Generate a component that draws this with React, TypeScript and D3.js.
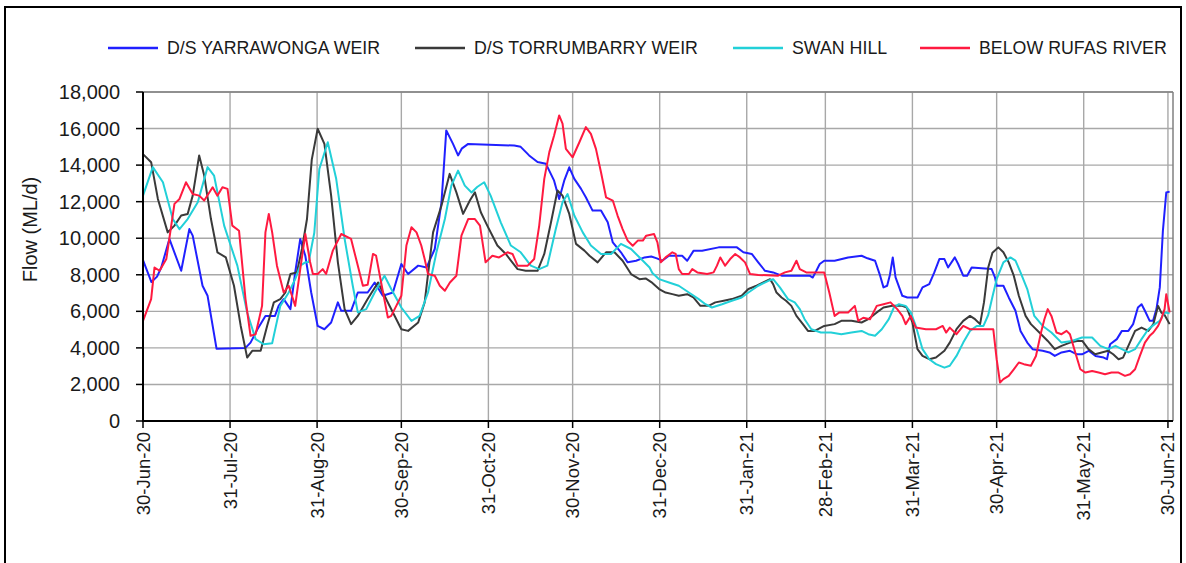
import React from 'react';
import * as d3 from 'd3';

const START = Date.UTC(2020, 5, 30);
const DAY = 86400000;

const tickDates = ['2020-06-30', '2020-07-31', '2020-08-31', '2020-09-30', '2020-10-31', '2020-11-30', '2020-12-31', '2021-01-31', '2021-02-28', '2021-03-31', '2021-04-30', '2021-05-31', '2021-06-30'];
const tickLabels = ['30-Jun-20', '31-Jul-20', '31-Aug-20', '30-Sep-20', '31-Oct-20', '30-Nov-20', '31-Dec-20', '31-Jan-21', '28-Feb-21', '31-Mar-21', '30-Apr-21', '31-May-21', '30-Jun-21'];
const yTicks = [0, 2000, 4000, 6000, 8000, 10000, 12000, 14000, 16000, 18000];

const seriesNames = ['D/S YARRAWONGA WEIR', 'D/S TORRUMBARRY WEIR', 'SWAN HILL', 'BELOW RUFAS RIVER'];
const seriesColors = ['#2020ff', '#3a3a3a', '#22d0d8', '#ff1a40'];

// day offsets from 30-Jun-20 and flows (ML/d)
const yarrawongaDays = [0, 3, 5, 6.5, 9.4, 13.6, 16.5, 17.7, 21.2, 23, 26.2, 36.5, 38.3, 40.7, 43.6, 47, 48.3, 50.1, 52.5, 54.2, 56, 57.8, 59.9, 62.2, 64.6, 67, 69.4, 70.6, 74.1, 76.5, 80, 82.5, 85.4, 89, 92, 94.4, 98, 101, 103.9, 106.3, 108, 110.4, 112.2, 113.5, 115.8, 132.2, 134.5, 137.5, 140.5, 143.5, 146.4, 148.2, 150, 151.8, 153.6, 156, 157.7, 160.1, 163.1, 165.5, 167.3, 170.2, 172.6, 175.6, 178.6, 181, 183, 184.9, 187.3, 192, 193.8, 196.1, 199.1, 205, 211.5, 213.8, 216.8, 219.1, 221.5, 224.4, 227.4, 237.4, 238.5, 239.8, 241, 242.6, 246.3, 251.1, 255.9, 258, 260.7, 262.5, 263.7, 265, 266, 267, 268, 270.4, 272.2, 275.8, 277.6, 280, 281.8, 283.6, 285.4, 286.7, 289.1, 290.3, 292.1, 293.5, 295.1, 302.2, 303.4, 304, 306.4, 308.3, 310.7, 312.5, 314.9, 316.8, 320.4, 322.8, 324.7, 327.1, 330.1, 332.6, 334.4, 336.8, 339.2, 342.1, 343.3, 344.4, 346.8, 348.6, 350.9, 352.6, 354.3, 355.6, 356.8, 358.5, 359.7, 360.9, 362.1, 363.2, 364.4, 365.6];
const yarrawongaFlow = [8800, 7600, 7900, 8400, 9960, 8220, 10500, 10140, 7400, 6850, 3950, 4000, 4290, 5000, 5750, 5750, 6300, 6670, 6120, 8130, 9960, 9040, 7030, 5200, 5020, 5390, 6490, 6030, 6030, 7030, 7030, 7580, 6850, 7030, 8590, 8040, 8500, 8400, 9410, 11970, 15900, 15160, 14530, 14900, 15160, 15070, 15000, 14530, 14170, 14070, 13150, 12150, 13150, 13880, 13250, 12700, 12240, 11510, 11510, 10870, 9770, 9230, 8680, 8770, 8950, 9000, 8900, 8770, 9040, 9040, 8770, 9320, 9320, 9500, 9500, 9230, 9140, 8680, 8220, 8130, 7950, 7950, 7850, 8220, 8590, 8770, 8770, 8950, 9040, 8900, 8770, 7950, 7310, 7400, 8000, 8950, 7860, 6850, 6760, 6760, 7310, 7490, 8130, 8860, 8860, 8400, 8950, 8590, 7950, 7950, 8400, 8310, 7860, 7400, 7400, 6760, 6030, 4930, 4290, 3930, 3840, 3750, 3560, 3750, 3840, 3650, 3650, 3840, 3560, 3470, 3380, 4200, 4480, 4930, 4930, 5300, 6210, 6390, 6030, 5480, 5480, 6120, 7310, 10400, 12500, 12550];

const torrumbarryDays = [0, 2.9, 5.3, 8.8, 11.2, 13.6, 15.9, 17.7, 20, 21.8, 24.2, 26.5, 29.5, 32.4, 34.8, 37.1, 38.9, 41.9, 44.2, 46.6, 48.9, 50.7, 52.5, 54.8, 56.6, 58.4, 60.1, 62.2, 64.6, 67, 69.4, 71.8, 74.1, 76.5, 80, 83.7, 86, 89, 92, 94.4, 98, 100.3, 103.3, 106.3, 109.2, 111.6, 114, 116.4, 118.2, 120.3, 122.6, 126.2, 129.2, 133.4, 136.3, 140.5, 142.9, 145.3, 147.6, 149.4, 151.8, 154.2, 157.2, 159, 161.9, 164.9, 167.9, 170.8, 173.8, 176.8, 179, 181, 183.8, 186.1, 188.5, 190.8, 193.8, 196, 198.5, 201.4, 203.8, 206.8, 209.7, 213.2, 215.6, 218.5, 220.9, 223.3, 224.4, 225.6, 227.4, 229, 230.9, 232.7, 235, 236.8, 239.2, 242.6, 246.3, 248.7, 252.3, 255.9, 258.3, 261.3, 263.7, 266.8, 270.4, 272, 274, 275.8, 277.6, 280, 282.4, 285.4, 287.3, 289.7, 292.1, 294.5, 296.3, 298.1, 299.5, 301, 302.5, 304.6, 306.4, 308.3, 310.1, 311.9, 314.3, 316.2, 319.2, 322.2, 324.7, 327.1, 330.1, 332.6, 334.5, 336.7, 339.1, 341.4, 343.7, 345.5, 347.4, 349, 350.9, 353.3, 355.6, 358, 359.8, 361.5, 362.6, 363.8, 365.6];
const torrumbarryFlow = [14600, 14160, 12150, 10320, 10690, 11240, 11330, 12330, 14530, 13430, 11050, 9230, 8950, 7400, 5200, 3470, 3840, 3840, 5200, 6490, 6670, 7030, 8040, 8130, 9410, 11050, 14300, 15990, 15160, 12330, 8680, 6120, 5300, 5750, 6670, 7580, 6850, 5940, 5020, 4930, 5390, 6490, 10320, 11790, 13520, 12510, 11330, 12060, 12510, 11420, 10690, 9600, 9140, 8310, 8220, 8220, 9140, 10870, 12610, 12330, 11330, 9690, 9320, 9040, 8680, 9230, 9230, 8770, 8040, 7760, 7800, 7600, 7220, 7030, 6940, 6850, 6940, 6760, 6300, 6300, 6490, 6580, 6670, 6850, 7220, 7400, 7580, 7760, 7490, 7030, 6760, 6580, 6300, 5750, 5300, 4930, 4930, 5200, 5300, 5480, 5480, 5390, 5570, 5940, 6210, 6300, 6300, 6200, 5390, 3930, 3560, 3380, 3470, 3840, 4290, 5020, 5480, 5750, 5570, 5300, 6500, 8400, 9200, 9500, 9230, 8680, 7950, 6850, 5750, 5300, 4840, 4380, 3930, 4110, 4290, 4380, 4380, 3930, 3650, 3750, 3840, 3650, 3380, 3470, 4110, 4930, 5110, 4930, 5300, 6300, 5940, 5800, 5300];

const swanHillDays = [0, 3.5, 7.1, 10.6, 13, 15.9, 19.5, 23, 25.3, 28.9, 33.6, 37.1, 40.1, 43, 46, 48.9, 51.9, 54.2, 56, 57.8, 59, 61, 62.8, 65.8, 68.8, 71.8, 74.7, 76.5, 79.5, 82.5, 86, 88.4, 92, 95.6, 98.5, 101.5, 104.5, 107.5, 109.8, 112.2, 114.6, 117, 119, 121.5, 123.8, 127.4, 131, 134.5, 138.1, 141.1, 144, 147, 149.4, 151.2, 153.6, 156.6, 159.5, 163.1, 166.7, 170.2, 173.8, 177.4, 180.4, 181.4, 183.8, 187.3, 190.8, 194.4, 197.9, 200.3, 202.6, 206.2, 209.7, 213.2, 215.6, 219.1, 222.7, 224.4, 226.8, 229.7, 232.1, 233.9, 235.6, 238, 241.4, 245, 248.7, 252.3, 255.9, 258.3, 260.7, 263.1, 265.6, 267.4, 269.2, 271.6, 273.4, 275.2, 277.6, 280, 282.4, 285.4, 287.3, 289.7, 292.1, 294.5, 296.9, 299.3, 301, 302.5, 304, 306.4, 308.9, 310.7, 312.5, 314.9, 317.4, 320.4, 323.5, 327.1, 330.8, 334.4, 338, 340.9, 343.8, 346.3, 348.6, 350.9, 353.3, 355.6, 358, 360.3, 362.1, 363.8, 365.6];
const swanHillFlow = [12330, 13890, 13060, 11050, 10500, 11050, 11970, 13890, 13430, 10690, 8500, 5940, 4480, 4200, 4250, 6300, 7030, 7760, 8500, 8680, 8700, 10300, 13790, 15250, 13250, 9960, 7400, 5940, 6120, 7030, 7950, 7220, 6210, 5480, 5750, 7030, 9230, 11050, 12880, 13700, 12880, 12500, 12800, 13060, 12330, 10870, 9600, 9230, 8500, 8310, 8500, 10500, 11970, 12420, 11240, 10320, 9600, 9140, 9140, 9690, 9410, 8860, 8400, 8100, 7760, 7580, 7400, 7030, 6670, 6390, 6210, 6390, 6580, 6760, 7030, 7400, 7670, 7760, 7310, 6670, 6490, 6120, 5570, 5020, 4840, 4840, 4750, 4840, 4930, 4750, 4660, 5020, 5570, 6210, 6390, 6300, 5940, 5200, 3930, 3380, 3110, 2920, 3020, 3560, 4290, 4930, 5200, 5200, 5800, 6800, 7760, 8680, 8950, 8770, 8130, 7220, 5750, 5200, 4840, 4290, 4380, 4570, 4570, 4110, 3930, 4110, 3930, 3750, 3930, 4480, 5020, 5300, 5480, 5940, 5900];

const rufasDays = [0, 2.9, 4.1, 5.9, 8.3, 11.2, 13, 15.3, 17.7, 20, 21.8, 24.8, 26.5, 28.3, 30.1, 31.8, 34.2, 36.5, 38.3, 40.1, 42.4, 43.6, 44.8, 46, 47.7, 50.1, 51.9, 54.2, 56, 57.8, 59.5, 60.5, 62.2, 64, 65.2, 67.6, 70.6, 74.1, 75.9, 78.3, 80, 81.9, 83, 84.8, 87.2, 88.4, 90.2, 92, 93.8, 95.6, 97.4, 99.1, 100.3, 101.5, 103.9, 105.7, 107.5, 109.3, 111.6, 113.4, 115.8, 118.2, 120, 122, 124.4, 126.8, 129.8, 131.6, 133.4, 137, 139.3, 141.1, 142.9, 144.7, 146.4, 148.2, 149.4, 150.6, 153, 155.4, 157.7, 159.5, 161.3, 163.1, 164.9, 167.3, 169, 170.8, 172.6, 174.4, 176.2, 178, 179.2, 182, 183.2, 184.4, 186.1, 188.5, 189.7, 190.8, 192, 194.4, 195.6, 197.4, 200.9, 203.2, 204.4, 205.6, 207.3, 209.1, 210.9, 212.6, 214.4, 216.2, 219.1, 226.2, 228.6, 230.9, 232.7, 233.9, 236.2, 242.6, 244.4, 246.3, 248, 251.1, 253.5, 254.7, 256.5, 258.9, 261.3, 263.7, 266.2, 268.6, 270.4, 271.6, 273.4, 275.2, 278.8, 282.4, 284.8, 286, 287.3, 289.7, 292.1, 294.5, 302.8, 304, 305.2, 306.4, 308.3, 310.1, 311.9, 313.7, 316.2, 318, 319.8, 321, 322.2, 323.5, 325.3, 327.1, 328.9, 330.1, 332, 333.8, 335.6, 338, 340.3, 342.6, 344.9, 347.4, 349.7, 351.5, 353.3, 355, 356.8, 358.5, 359.8, 361.5, 362.6, 363.8, 364.4, 365.6];
const rufasFlow = [5480, 6670, 8400, 8220, 8860, 11880, 12150, 13060, 12420, 12330, 12060, 12790, 12330, 12790, 12700, 10690, 10410, 6670, 4660, 4750, 6300, 10320, 11330, 10320, 8500, 7030, 7400, 6300, 8310, 10230, 8700, 8040, 8040, 8310, 8040, 9320, 10230, 9960, 8860, 7400, 7450, 9140, 9050, 7580, 5660, 5750, 6300, 6850, 9600, 10600, 10320, 9600, 8860, 8040, 7950, 7400, 7130, 7580, 7950, 10140, 11050, 11050, 10690, 8680, 9040, 8950, 9230, 9140, 8500, 8500, 8860, 10690, 13250, 14710, 15620, 16720, 16270, 14890, 14430, 15250, 16080, 15710, 14890, 13610, 12240, 12060, 11240, 10500, 9870, 9590, 9870, 9870, 10140, 10230, 9770, 8680, 8950, 9230, 9140, 8310, 8040, 8040, 8310, 8130, 8040, 8130, 8500, 8950, 8500, 8860, 9140, 8950, 8680, 8040, 7990, 7950, 8130, 8220, 8770, 8310, 8130, 8130, 7030, 5750, 5940, 5940, 6300, 5480, 5650, 5570, 6300, 6390, 6490, 6120, 5750, 5300, 5750, 5110, 5020, 5020, 5200, 4840, 5110, 4750, 5200, 5020, 5020, 3380, 2100, 2290, 2470, 2830, 3200, 3110, 3020, 3560, 4840, 5570, 6120, 5750, 4840, 4750, 4930, 4750, 3750, 2830, 2650, 2740, 2650, 2560, 2650, 2650, 2470, 2560, 2830, 3560, 4290, 4660, 4840, 5200, 5570, 6120, 6940, 5940];

const seriesDays = [yarrawongaDays, torrumbarryDays, swanHillDays, rufasDays];
const seriesFlows = [yarrawongaFlow, torrumbarryFlow, swanHillFlow, rufasFlow];

const W = 1186;
const H = 563;
const PL = 143;
const PR = 1173;
const PT = 92;
const PB = 421;
const FONT = '"Liberation Sans", Arial, sans-serif';

const legendLineX = [108, 415, 733, 920];

export default function App() {
  const x = d3.scaleUtc()
    .domain([new Date(START), new Date(START + 366.8 * DAY)])
    .range([PL, PR]);
  const y = d3.scaleLinear().domain([0, 18000]).range([PB, PT]);
  const line = d3.line<[number, number]>()
    .x((d) => x(new Date(START + d[0] * DAY)))
    .y((d) => y(d[1]));
  const fmt = d3.format(',');
  const ticks = tickDates.map((s) => new Date(s + 'T00:00:00Z'));

  return (
    <svg width={W} height={H} style={{ position: 'absolute', left: 0, top: 0, background: '#fff' }}>
      <rect x={5} y={7} width={1176} height={600} fill="#fff" stroke="#000" strokeWidth={2} />
      {/* legend */}
      {seriesNames.map((n, i) => (
        <g key={n}>
          <line x1={legendLineX[i]} x2={legendLineX[i] + 50} y1={48} y2={48} stroke={seriesColors[i]} strokeWidth={2.4} />
          <text x={legendLineX[i] + 59} y={48} dominantBaseline="central" fontFamily={FONT} fontSize={17.8} fill="#1a1a1a">{n}</text>
        </g>
      ))}
      {/* grid */}
      {yTicks.map((t) => (
        <line key={'h' + t} x1={PL} x2={PR} y1={y(t)} y2={y(t)} stroke="#a8a8a8" strokeWidth={1.4} />
      ))}
      {ticks.map((t, i) => (
        <line key={'v' + i} x1={x(t)} x2={x(t)} y1={PT} y2={PB} stroke="#a8a8a8" strokeWidth={1.4} />
      ))}
      <line x1={PL} x2={PR} y1={PT} y2={PT} stroke="#808080" strokeWidth={1.5} />
      <line x1={PR} x2={PR} y1={PT} y2={PB} stroke="#808080" strokeWidth={1.5} />
      {/* series */}
      {seriesDays.map((days, i) => (
        <path
          key={'s' + i}
          d={line(days.map((dd, j) => [dd, seriesFlows[i][j]] as [number, number])) || ''}
          fill="none"
          stroke={seriesColors[i]}
          strokeWidth={2}
          strokeLinejoin="round"
        />
      ))}
      {/* axes */}
      <line x1={PL} x2={PL} y1={PT} y2={PB + 1} stroke="#000" strokeWidth={2} />
      <line x1={PL - 1} x2={PR} y1={PB} y2={PB} stroke="#000" strokeWidth={2} />
      {yTicks.map((t) => (
        <g key={'yt' + t}>
          <line x1={PL - 7} x2={PL} y1={y(t)} y2={y(t)} stroke="#000" strokeWidth={1.5} />
          <text x={120} y={y(t)} textAnchor="end" dominantBaseline="central" fontFamily={FONT} fontSize={20} fill="#1a1a1a">{fmt(t)}</text>
        </g>
      ))}
      {ticks.map((t, i) => (
        <g key={'xt' + i}>
          <line x1={x(t)} x2={x(t)} y1={PB} y2={PB + 7} stroke="#000" strokeWidth={1.5} />
          <text transform={`translate(${x(t)},${PB + 11}) rotate(-90)`} textAnchor="end" dominantBaseline="central" fontFamily={FONT} fontSize={18.5} fill="#1a1a1a">{tickLabels[i]}</text>
        </g>
      ))}
      <text transform={`translate(30,${(PT + PB) / 2 - 27}) rotate(-90)`} textAnchor="middle" dominantBaseline="central" fontFamily={FONT} fontSize={20} fill="#1a1a1a">Flow (ML/d)</text>
    </svg>
  );
}
